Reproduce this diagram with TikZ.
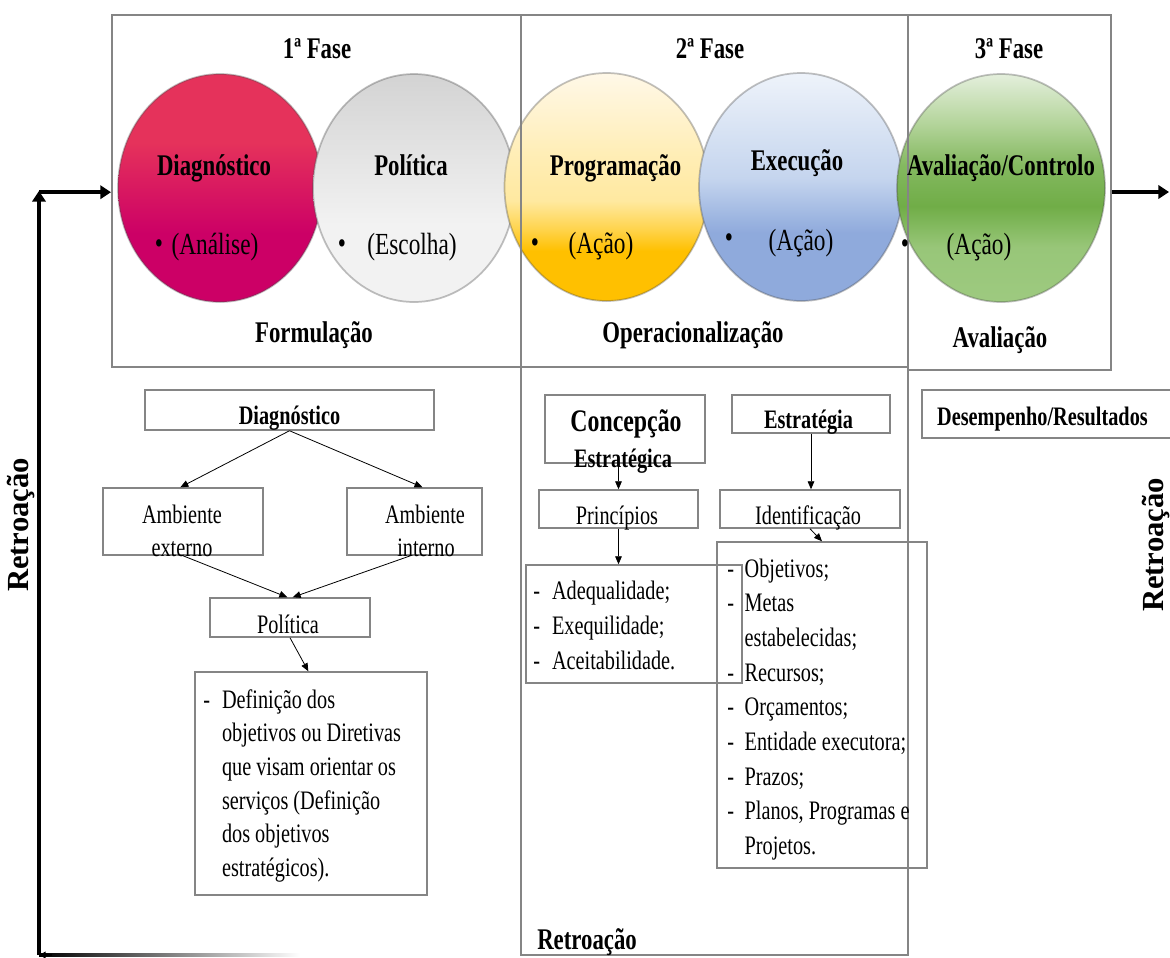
\documentclass[tikz,border=0pt]{standalone}
\usepackage{fontspec}
\setmainfont{Liberation Serif}[FakeStretch=0.76]
\newfontfamily\wideserif{Liberation Serif}
\usetikzlibrary{arrows.meta,shapes.geometric}

\definecolor{frameGray}{HTML}{858585}
\definecolor{redTop}{HTML}{E5325B}
\definecolor{redBot}{HTML}{CC0066}
\definecolor{grayTop}{HTML}{D3D3D3}
\definecolor{grayBot}{HTML}{F2F2F2}
\definecolor{yelTop}{HTML}{FFF8E8}
\definecolor{yelMid}{HTML}{FFE9A0}
\definecolor{yelBot}{HTML}{FFC000}
\definecolor{bluTop}{HTML}{EEF3FA}
\definecolor{bluMid}{HTML}{C5D5EE}
\definecolor{bluBot}{HTML}{8FAADC}
\definecolor{grnTop}{HTML}{E4EFDC}
\definecolor{grnUp}{HTML}{B3D49A}
\definecolor{grnMid}{HTML}{70AD47}
\definecolor{grnBot}{HTML}{A9D18E}

% vertical colour ramps for the five phase discs; TikZ maps 25bp..75bp of a
% shading onto the shaded path, so the disc spans 25bp (bottom) to 75bp (top)
\pgfdeclareverticalshading{shRed}{100bp}{color(0bp)=(redBot); color(40bp)=(redBot); color(60bp)=(redTop); color(100bp)=(redTop)}
\pgfdeclareverticalshading{shGray}{100bp}{color(0bp)=(grayBot); color(42bp)=(grayBot); color(75bp)=(grayTop); color(100bp)=(grayTop)}
\pgfdeclareverticalshading{shYellow}{100bp}{color(0bp)=(yelBot); color(36bp)=(yelBot); color(41bp)=(yelBot!50!yelMid); color(47bp)=(yelMid); color(57bp)=(yelMid!70!yelTop); color(75bp)=(yelTop); color(100bp)=(yelTop)}
\pgfdeclareverticalshading{shBlue}{100bp}{color(0bp)=(bluBot); color(40bp)=(bluBot); color(52bp)=(bluMid); color(75bp)=(bluTop); color(100bp)=(bluTop)}
\pgfdeclareverticalshading{shGreen}{100bp}{color(0bp)=(grnBot); color(37bp)=(grnBot!70!grnMid); color(46bp)=(grnMid); color(55bp)=(grnMid!70!grnUp); color(64bp)=(grnUp); color(75bp)=(grnTop); color(100bp)=(grnTop)}

\tikzset{
  sizebox/.style 2 args={minimum width=#1*0.75pt, minimum height=#2*0.75pt},
  orb/.style={ellipse, inner sep=0, shade, draw=black!70, draw opacity=0.35, line width=1.3pt},
  frame/.style={rectangle, draw=frameGray, line width=1.5pt, inner sep=0},
  box/.style={rectangle, draw=frameGray, line width=1.1pt, inner sep=0},
  ttl/.style={font=\fontsize{22.5}{27}\selectfont\bfseries, anchor=base, inner sep=0},
  ctx/.style={font=\fontsize{23}{27}\selectfont, anchor=base, inner sep=0},
  lbl/.style={font=\fontsize{20}{24}\selectfont, anchor=base, inner sep=0},
  lblb/.style={font=\fontsize{20}{24}\selectfont\bfseries, anchor=base, inner sep=0},
  sidelbl/.style={font=\wideserif\fontsize{23}{27}\selectfont\bfseries, rotate=90, inner sep=0},
  flow/.style={line width=0.6pt, -{Triangle[length=6pt,width=5pt]}},
  fbline/.style={line width=3pt, -{Triangle[length=8pt,width=10pt]}}
}

\begin{document}
\begin{tikzpicture}[x=0.75pt, y=-0.75pt]
\useasboundingbox (0,0) rectangle (1170,957);
\fill[white] (0,0) rectangle (1170,957);

% ---- phase discs ----
\node[orb, shading=shRed,    sizebox={204}{228}] (c1) at (220,188) {};
\node[orb, shading=shGray,   sizebox={202}{228}] (c2) at (414,188) {};
\node[orb, shading=shYellow, sizebox={204}{228}] (c3) at (606.5,187) {};
\node[orb, shading=shBlue,   sizebox={204}{228}] (c4) at (801,187) {};
\node[orb, shading=shGreen,  sizebox={208}{228}] (c5) at (1001,188) {};

% ---- phase frames ----
\node[frame, sizebox={409}{352}] (f1) at (316.5,191) {};
\node[frame, sizebox={387}{352}] (f2) at (714.5,191) {};
\node[frame, sizebox={203}{355}] (f3) at (1009.5,192.5) {};
\node[frame, sizebox={387}{588}] (f4) at (714.5,661) {};

% ---- phase headings and footers ----
\node[ttl] (h1) at (317,58) {1ª Fase};
\node[ttl] (h2) at (710,58) {2ª Fase};
\node[ttl] (h3) at (1009,58) {3ª Fase};
\node[ttl] (s1) at (314,342) {Formulação};
\node[ttl] (s2) at (693,342) {Operacionalização};
\node[ttl] (s3) at (1000,347) {Avaliação};

% ---- disc contents ----
\node[ttl] (n1) at (214,175) {Diagnóstico};
\node[ttl] (n2) at (411,175) {Política};
\node[ttl] (n3) at (615.5,175) {Programação};
\node[ttl] (n4) at (797,170) {Execução};
\node[ttl] (n5) at (1001,175) {Avaliação/Controlo};

\node[ctx] (d1) at (159,253) {•};
\node[ctx] (p1) at (215,254) {(Análise)};
\node[ctx] (d2) at (342,253) {•};
\node[ctx] (p2) at (412,254) {(Escolha)};
\node[ctx] (d3) at (535,252) {•};
\node[ctx] (p3) at (601,253) {(Ação)};
\node[ctx] (d4) at (729,247) {•};
\node[ctx] (p4) at (801,250) {(Ação)};
\node[ctx] (d5) at (905,253) {•};
\node[ctx] (p5) at (979,254) {(Ação)};

% ---- feedback loop and output arrow ----
\coordinate (fbB) at (39,955);
\coordinate (fbC) at (39,191);
\coordinate (outR) at (1169,192);
\shade[left color=black, right color=white] (39,953.6) rectangle (300,956.4);
\draw[line width=1pt, -{Triangle[length=5pt,width=5pt]}] (52,955) -- (fbB);
\draw[fbline] (fbB) -- (fbC);
\draw[fbline] ([yshift=-0.9pt]fbC) -- ([yshift=-0.9pt]fbC -| f1.west);
\draw[fbline] (f3.east |- outR) -- (outR);

\node[sidelbl] (r1) at (21,525) {Retroação};
\node[sidelbl] (r2) at (1156,545) {Retroação};

% ---- formulation breakdown ----
\node[box, sizebox={289}{40}]  (dg) at (289.5,410) {};
\node[box, sizebox={160}{67}]  (ae) at (183,521.5) {};
\node[box, sizebox={135}{67}]  (ai) at (414.5,521.5) {};
\node[box, sizebox={160}{39}]  (po) at (290,617.5) {};
\node[box, sizebox={232}{223}] (df) at (311,783.5) {};

\node[lblb] (dgt) at (289.5,424) {Diagnóstico};
\node[lbl] (aet1) at (182,523) {Ambiente};
\node[lbl] (aet2) at (182,556) {externo};
\node[lbl] (ait1) at (425,523) {Ambiente};
\node[lbl] (ait2) at (426,556) {interno};
\node[lbl] (pot) at (288,633) {Política};
\node[lbl, anchor=base west, font=\fontsize{20}{25.3}\selectfont] (dft) at (203,708)
  {\begin{tabular}[t]{@{}l@{\hspace{9pt}}l@{}}
   -&Definição dos\\
    &objetivos ou Diretivas\\
    &que visam orientar os\\
    &serviços (Definição\\
    &dos objetivos\\
    &estratégicos).
   \end{tabular}};

\draw[flow] (dg.south) -- ([xshift=-2pt]ae.north);
\draw[flow] (dg.south) -- ([xshift=6pt]ai.north);
\draw[flow] (ae.south) -- ([xshift=-2pt]po.north);
\draw[flow] ([xshift=-3pt]ai.south) -- ([xshift=2pt]po.north);
\draw[flow] (po.south) -- ([xshift=-2pt]df.north);

% ---- operationalisation breakdown ----
\node[box, sizebox={160}{68}]  (cs) at (625,429) {};
\node[box, sizebox={158}{38}]  (es) at (811,414) {};
\node[box, sizebox={159}{38}]  (pr) at (618.5,509) {};
\node[box, sizebox={180}{38}]  (id) at (810,509) {};
\node[box, sizebox={216}{118}] (la) at (634,624) {};
\node[box, sizebox={210}{326}] (lb) at (822,705) {};

\node[lblb, font=\fontsize{23.5}{28}\selectfont\bfseries] (cst1) at (626,431) {Concepção};
\node[lblb] (cst2) at (623,467) {Estratégica};
\node[lblb] (est) at (808.5,428) {Estratégia};
\node[lbl] (prt) at (617,524) {Princípios};
\node[lbl] (idt) at (808,524) {Identificação};

\node[lbl, anchor=base west, font=\fontsize{20}{26.6}\selectfont] (lat) at (533,599)
  {\begin{tabular}[t]{@{}l@{\hspace{9pt}}l@{}}
   -&Adequalidade;\\
   -&Exequilidade;\\
   -&Aceitabilidade.
   \end{tabular}};
\node[lbl, anchor=base west, font=\fontsize{20}{26}\selectfont] (lbt) at (727,577)
  {\begin{tabular}[t]{@{}l@{\hspace{8pt}}l@{}}
   -&Objetivos;\\
   -&Metas\\
    &estabelecidas;\\
   -&Recursos;\\
   -&Orçamentos;\\
   -&Entidade executora;\\
   -&Prazos;\\
   -&Planos, Programas e\\
    &Projetos.
   \end{tabular}};

\draw[flow] (pr.north |- cs.south) -- (pr.north);
\draw[flow] (es.south) -- (es.south |- id.north);
\draw[flow] (pr.south) -- (pr.south |- la.north);
\draw[flow] (id.south) -- (lb.north);

\node[ttl, anchor=base west] (rb) at (537,949) {Retroação};

% ---- evaluation ----
\node[box, sizebox={258}{48}] (dr) at (1051,414) {};
\node[lblb] (drt) at (1042.5,425) {Desempenho/Resultados};
\end{tikzpicture}
\end{document}
